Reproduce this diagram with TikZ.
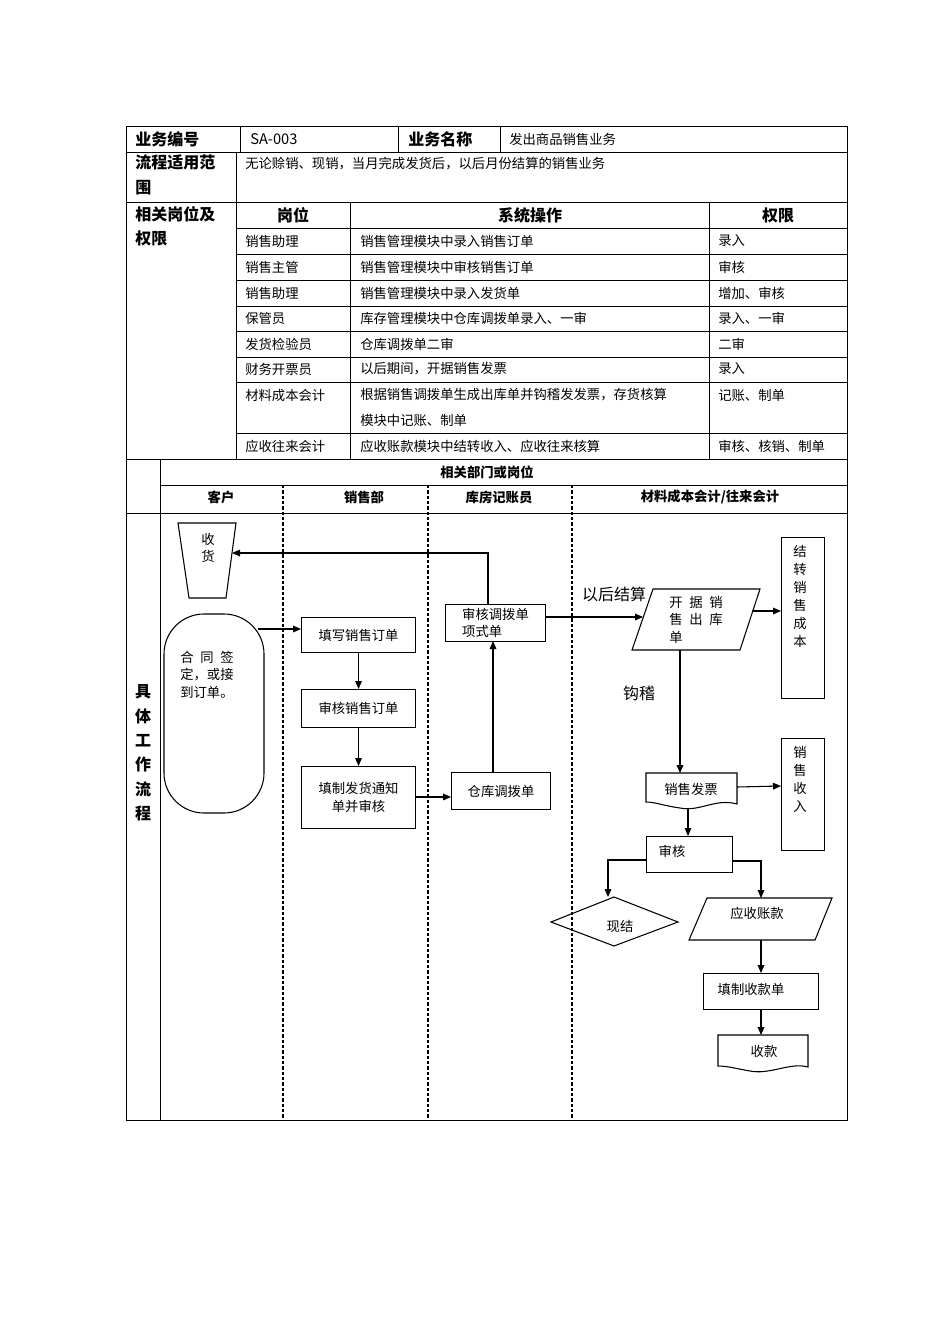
\documentclass[tikz,border=0pt]{standalone}
\usepackage{fontspec}
\setmainfont{Noto Sans CJK SC}
\usetikzlibrary{shapes.geometric,arrows.meta}
\begin{document}
\begin{tikzpicture}[x=0.75pt,y=-0.75pt,
  ln/.style={line width=0.6pt},
  t/.style={font=\fontsize{10}{14}\selectfont,anchor=west,inner sep=0},
  h/.style={font=\fontsize{12}{16}\selectfont\bfseries,inner sep=0},
  hs/.style={font=\fontsize{10}{14}\selectfont\bfseries,inner sep=0},
  box/.style={draw,line width=0.8pt,font=\fontsize{10}{13}\selectfont,inner sep=0},
  arr/.style={-{Triangle[length=6pt,width=5pt]},line width=0.8pt},
  dl/.style={line width=0.9pt,dash pattern=on 2.5pt off 1.5pt}]
\useasboundingbox (0,0) rectangle (950,1344);
% table
\draw[ln] (126,126) rectangle (847,1120);
\foreach \y in {152,202,459,513} \draw[ln] (126,\y)--(847,\y);
\draw[ln] (236,228)--(847,228);
\foreach \y in {254,280,306,331,357,382,433} \draw[ln] (236,\y)--(847,\y);
\draw[ln] (160,485)--(847,485);
\foreach \x in {240,398,500} \draw[ln] (\x,126)--(\x,152);
\draw[ln] (236,152)--(236,459);
\draw[ln] (350,202)--(350,459);
\draw[ln] (709,202)--(709,459);
\draw[ln] (160,459)--(160,1120);
\foreach \x in {283,428,572} \draw[dl] (\x,485)--(\x,1120);
\node[h,anchor=west] (a1) at (135,139) {业务编号};
\node[font=\fontsize{11}{14}\selectfont,anchor=west,inner sep=0] (a2) at (250,139) {SA-003};
\node[h,anchor=west] (a3) at (408,139) {业务名称};
\node[t] (a4) at (509,139) {发出商品销售业务};
\node[anchor=north west,align=left,font=\fontsize{12}{18.5}\selectfont\bfseries,inner sep=0] (b1) at (135,155) {流程适用范\\围};
\node[t] (b2) at (245,164) {无论赊销、现销，当月完成发货后，以后月份结算的销售业务};
\node[anchor=north west,align=left,font=\fontsize{12}{18.5}\selectfont\bfseries,inner sep=0] (c1) at (135,206) {相关岗位及\\权限};
\node[h] (c2) at (293,215) {岗位};
\node[h] (c3) at (530,215) {系统操作};
\node[h] (c4) at (778,215) {权限};
\foreach \y/\p/\s/\q in {241/销售助理/销售管理模块中录入销售订单/录入,
 267/销售主管/销售管理模块中审核销售订单/审核,
 293/销售助理/销售管理模块中录入发货单/{增加、审核},
 318/保管员/{库存管理模块中仓库调拨单录入、一审}/{录入、一审},
 344/发货检验员/仓库调拨单二审/二审,
 369/财务开票员/{以后期间，开据销售发票}/录入,
 395/材料成本会计/{根据销售调拨单生成出库单并钩稽发发票，存货核算}/{记账、制单},
 420//{模块中记账、制单}/,
 446/应收往来会计/{应收账款模块中结转收入、应收往来核算}/{审核、核销、制单}}{
 \node[t] at (245,\y) {\p};
 \node[t] at (360,\y) {\s};
 \node[t] at (718,\y) {\q};
}
\node[hs] (d1) at (487,472) {相关部门或岗位};
\node[hs] (d2) at (221,497) {客户};
\node[hs] (d3) at (364,497) {销售部};
\node[hs] (d4) at (499,497) {库房记账员};
\node[hs] (d5) at (710,497) {材料成本会计/往来会计};
\node[align=center,font=\fontsize{12}{18.3}\selectfont\bfseries,inner sep=0] (d6) at (143,753) {具\\体\\工\\作\\流\\程};
% flowchart
\draw[line width=0.8pt] (178,523)--(236,523)--(226,598)--(189,598)--cycle;
\node[font=\fontsize{10}{13}\selectfont,align=center,inner sep=0] (sh) at (208,548) {收\\货};
\coordinate (shr) at (232,553);
\draw[line width=0.8pt,rounded corners=30pt] (164,614) rectangle (264,813);
\node[font=\fontsize{10}{13}\selectfont,align=left,inner sep=0,anchor=north west] (ht) at (180,651) {合\enspace 同\enspace 签\\定，或接\\到订单。};
\coordinate (htr) at (258,629);
\node[box,anchor=north west,minimum width=85.5pt,minimum height=26.25pt] (f1) at (301,617) {填写销售订单};
\node[box,anchor=north west,minimum width=85.5pt,minimum height=28.5pt] (f2) at (301,689) {审核销售订单};
\node[box,anchor=north west,minimum width=85.5pt,minimum height=46.5pt,align=center] (f3) at (301,766) {填制发货通知\\单并审核};
\node[box,anchor=north west,minimum width=74.25pt,minimum height=27.75pt] (f4) at (451,772) {仓库调拨单};
\node[box,anchor=north west,minimum width=75pt,minimum height=27.75pt,align=left] (f5) at (445,604) {审核调拨单\\项式单};
\draw[arr] (htr)--(f1.west|-htr);
\draw[arr] (f1)--(f2);
\draw[arr] (f2)--(f3);
\draw[arr] (f3.east|-0,797)--(f4.west|-0,797);
\draw[arr] (493,772)--(493,641);
\draw[arr] (488,604)--(488,553)--(shr);
\draw[line width=0.8pt] (653,589)--(760,589)--(740,650)--(632,650)--cycle;
\node[font=\fontsize{10}{13}\selectfont,align=left,inner sep=0,anchor=north west] (p1) at (669,596) {开\enspace 据\enspace 销\\售\enspace 出\enspace 库\\单};
\draw[arr] (f5.east|-0,617)--(643,617);
\node[font=\fontsize{12}{14}\selectfont,inner sep=0] (l1) at (614,594) {以后结算};
\node[box,anchor=north west,minimum width=32.25pt,minimum height=120.75pt] (r1) at (781,537) {};
\node[font=\fontsize{10}{13.5}\selectfont,align=center,inner sep=0,anchor=north] at (800,545) {结\\转\\销\\售\\成\\本};
\draw[arr] (752,611)--(781,611);
\draw[line width=0.8pt] (646,773)--(737,773)--(737,804) .. controls (715,798) and (700,812) .. (680,808) .. controls (665,806) and (655,802) .. (646,802)--cycle;
\node[font=\fontsize{10}{13}\selectfont,inner sep=0] (inv) at (691,789) {销售发票};
\draw[arr] (680,650)--(680,773);
\node[font=\fontsize{12}{14}\selectfont,inner sep=0] (l2) at (639,693) {钩稽};
\node[box,anchor=north west,minimum width=32.25pt,minimum height=84pt] (r2) at (781,738) {};
\node[font=\fontsize{10}{13.5}\selectfont,align=center,inner sep=0,anchor=north] at (800,746) {销\\售\\收\\入};
\draw[arr] (737,787)--(781,786);
\node[box,anchor=north west,minimum width=64.5pt,minimum height=27pt] (sh2) at (646,836) {};
\node[font=\fontsize{10}{13}\selectfont,inner sep=0] at (672,851) {审核};
\draw[arr] (688,808)--(688,836);
\draw[line width=0.8pt] (551,922)--(614,897)--(678,922)--(614,946)--cycle;
\node[font=\fontsize{10}{13}\selectfont,inner sep=0] (dm) at (620,926) {现结};
\draw[arr] (646,860)--(608,860)--(608,897);
\draw[line width=0.8pt] (707,898)--(832,898)--(815,940)--(689,940)--cycle;
\node[font=\fontsize{10}{13}\selectfont,inner sep=0] (ys) at (757,913) {应收账款};
\draw[arr] (732,861)--(761,861)--(761,898);
\node[box,anchor=north west,minimum width=86.25pt,minimum height=27pt] (tz) at (703,973) {};
\node[font=\fontsize{10}{13}\selectfont,inner sep=0] at (751,989) {填制收款单};
\draw[arr] (761,940)--(761,973);
\draw[line width=0.8pt] (718,1035)--(808,1035)--(808,1067) .. controls (790,1062) and (770,1075) .. (750,1071) .. controls (738,1069) and (728,1066) .. (718,1066)--cycle;
\node[font=\fontsize{10}{13}\selectfont,inner sep=0] (sk) at (764,1051) {收款};
\draw[arr] (761,1009)--(761,1035);
\end{tikzpicture}
\end{document}
